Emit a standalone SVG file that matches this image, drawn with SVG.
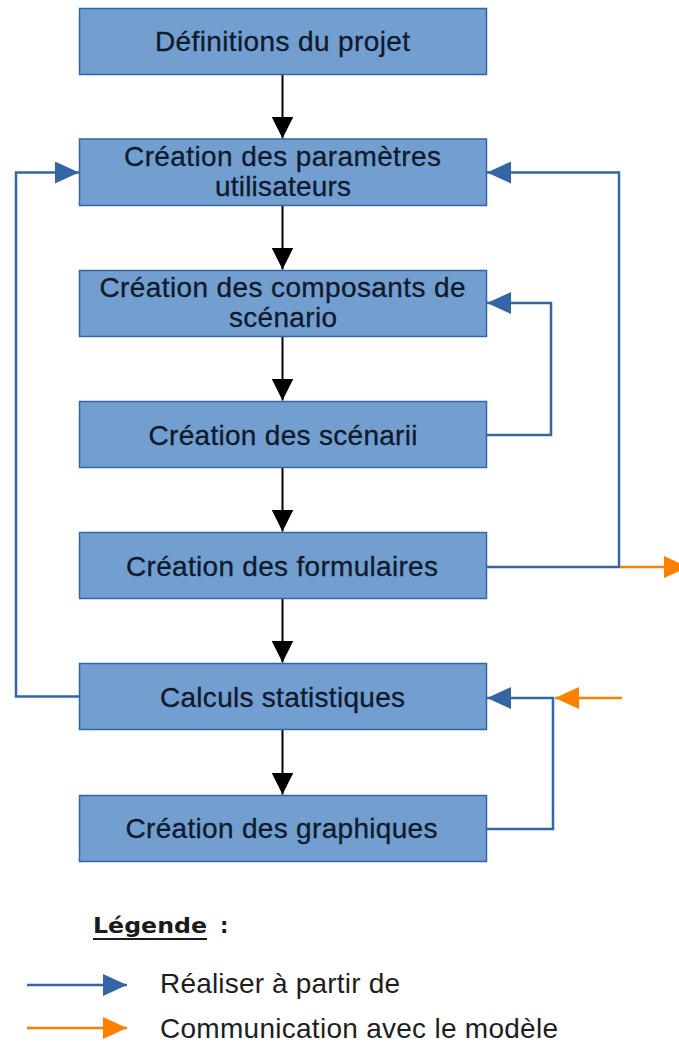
<svg xmlns="http://www.w3.org/2000/svg" width="679" height="1043" viewBox="0 0 679 1043">
<style>
.box{fill:#729fcf;stroke:#3465a4;stroke-width:1.5}
.t{font-family:"Liberation Sans",Arial,sans-serif;font-size:28px;fill:#0f1a2e;stroke:#0f1a2e;stroke-width:0.3;text-anchor:middle}
.lt{font-family:"Liberation Sans",Arial,sans-serif;font-size:28px;fill:#1e1e1e}
.blk{stroke:#000;stroke-width:2;fill:none}
.blu{stroke:#3465a4;stroke-width:2.5;fill:none}
.org{stroke:#ff8000;stroke-width:2.5;fill:none}
</style>
<defs>
<marker id="ab" markerUnits="userSpaceOnUse" markerWidth="22" markerHeight="22" refX="22" refY="11" orient="auto" viewBox="0 0 22 22"><path d="M0,0 L22,11 L0,22 z" fill="#000"/></marker>
<marker id="au" markerUnits="userSpaceOnUse" markerWidth="24" markerHeight="22" refX="24" refY="11" orient="auto" viewBox="0 0 24 22"><path d="M0,0 L24,11 L0,22 z" fill="#3465a4"/></marker>
<marker id="ao" markerUnits="userSpaceOnUse" markerWidth="24" markerHeight="22" refX="24" refY="11" orient="auto" viewBox="0 0 24 22"><path d="M0,0 L24,11 L0,22 z" fill="#ff8000"/></marker>
</defs>
<rect width="679" height="1043" fill="#fff"/>
<g id="connectors">
<line class="blk" x1="282.5" y1="74.5" x2="282.5" y2="138.5" marker-end="url(#ab)"/>
<line class="blk" x1="282.5" y1="205.5" x2="282.5" y2="269.5" marker-end="url(#ab)"/>
<line class="blk" x1="282.5" y1="336.5" x2="282.5" y2="400.5" marker-end="url(#ab)"/>
<line class="blk" x1="282.5" y1="467.5" x2="282.5" y2="531.5" marker-end="url(#ab)"/>
<line class="blk" x1="282.5" y1="598.5" x2="282.5" y2="662.5" marker-end="url(#ab)"/>
<line class="blk" x1="282.5" y1="729.5" x2="282.5" y2="794.5" marker-end="url(#ab)"/>
<path class="blu" d="M79,696.5 H16 V172.5 H79" marker-end="url(#au)"/>
<path class="blu" d="M486,567 H619 V172.5 H487" marker-end="url(#au)"/>
<path class="org" d="M620,567 H688" marker-end="url(#ao)"/>
<path class="blu" d="M486,435 H551 V303 H487" marker-end="url(#au)"/>
<path class="blu" d="M486,829 H553 V698 H487" marker-end="url(#au)"/>
<path class="org" d="M622,698 H555" marker-end="url(#ao)"/>
</g>
<g id="n1"><rect class="box" x="79.5" y="8.5" width="407" height="66"/><text class="t" x="282.5" y="50.5" textLength="255">Définitions du projet</text></g>
<g id="n2"><rect class="box" x="79.5" y="139" width="407" height="66.5"/><text class="t" x="282.5" y="166" textLength="317">Création des paramètres</text><text class="t" x="283" y="196" textLength="136">utilisateurs</text></g>
<g id="n3"><rect class="box" x="79.5" y="270.5" width="407" height="66"/><text class="t" x="282.5" y="297" textLength="366">Création des composants de</text><text class="t" x="283" y="327" textLength="108">scénario</text></g>
<g id="n4"><rect class="box" x="79.5" y="401.5" width="407" height="66"/><text class="t" x="283" y="445" textLength="269">Création des scénarii</text></g>
<g id="n5"><rect class="box" x="79.5" y="532.5" width="407" height="66"/><text class="t" x="282" y="576" textLength="312">Création des formulaires</text></g>
<g id="n6"><rect class="box" x="79.5" y="663.5" width="407" height="66"/><text class="t" x="282.5" y="707" textLength="245">Calculs statistiques</text></g>
<g id="n7"><rect class="box" x="79.5" y="795.5" width="407" height="66"/><text class="t" x="281.5" y="838" textLength="312">Création des graphiques</text></g>
<g id="legend">
<text x="93" y="933" font-family="DejaVu Sans,Verdana,sans-serif" font-size="21" font-weight="bold" fill="#1a1a1a" textLength="114" lengthAdjust="spacingAndGlyphs">Légende</text>
<line x1="93" y1="939" x2="207" y2="939" stroke="#1a1a1a" stroke-width="2"/>
<text x="220" y="933" font-family="DejaVu Sans,Verdana,sans-serif" font-size="21" font-weight="bold" fill="#1a1a1a">:</text>
<path class="blu" d="M27,985 H127" marker-end="url(#au)"/>
<text class="lt" x="160" y="993" textLength="240">Réaliser à partir de</text>
<path class="org" d="M27,1028 H127" marker-end="url(#ao)"/>
<text class="lt" x="160" y="1038" textLength="398">Communication avec le modèle</text>
</g>
</svg>
